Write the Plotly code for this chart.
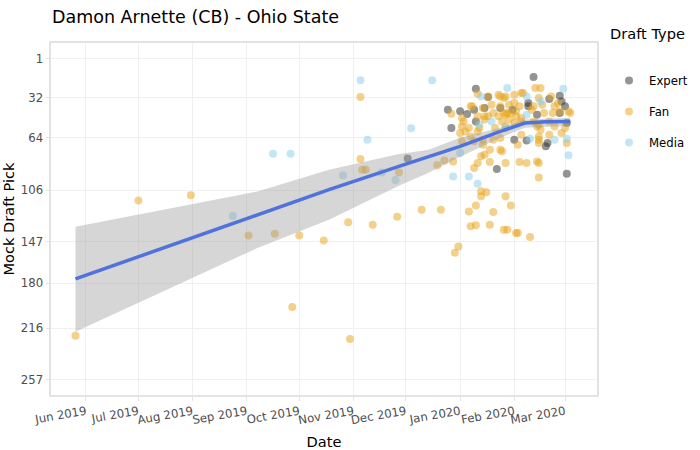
import plotly.graph_objects as go

# ---------------- data ----------------
expert_dates = ["2019-12-02", "2019-12-25", "2019-12-27", "2020-01-01", "2020-01-05", "2020-01-09",
                "2020-01-10", "2020-01-10", "2020-01-15", "2020-01-17", "2020-01-22", "2020-01-24",
                "2020-01-31", "2020-02-01", "2020-02-08", "2020-02-09", "2020-02-09", "2020-02-12",
                "2020-02-14", "2020-02-19", "2020-02-20", "2020-02-21", "2020-02-27", "2020-02-27",
                "2020-02-28", "2020-03-01", "2020-03-02", "2020-03-02"]
expert_picks = [80.7, 41.7, 56.3, 43.0, 45.1, 41.7,
                24.9, 51.0, 40.3, 31.5, 89.0, 40.3,
                41.7, 65.6, 66.2, 36.3, 39.0, 15.6,
                45.7, 70.9, 68.2, 33.1, 30.5, 44.3,
                35.1, 39.0, 52.3, 92.7]

fan_dates = ["2019-05-26", "2019-07-01", "2019-07-31", "2019-09-02", "2019-09-17", "2019-09-27",
             "2019-10-01", "2019-10-15", "2019-10-29", "2019-10-30", "2019-11-05", "2019-11-05",
             "2019-11-06", "2019-11-08", "2019-11-12", "2019-11-26", "2019-11-27", "2019-12-10",
             "2019-12-19", "2019-12-21", "2019-12-23", "2019-12-27", "2019-12-28", "2019-12-29",
             "2019-12-31", "2020-01-01", "2020-01-02", "2020-01-02", "2020-01-02", "2020-01-03",
             "2020-01-04", "2020-01-06", "2020-01-06", "2020-01-07", "2020-01-07", "2020-01-07",
             "2020-01-08", "2020-01-09", "2020-01-09", "2020-01-10", "2020-01-10", "2020-01-11",
             "2020-01-11", "2020-01-11", "2020-01-11", "2020-01-12", "2020-01-13", "2020-01-13",
             "2020-01-13", "2020-01-14", "2020-01-14", "2020-01-14", "2020-01-15", "2020-01-15",
             "2020-01-15", "2020-01-16", "2020-01-17", "2020-01-17", "2020-01-18", "2020-01-18",
             "2020-01-18", "2020-01-19", "2020-01-20", "2020-01-20", "2020-01-20", "2020-01-21",
             "2020-01-23", "2020-01-23", "2020-01-24", "2020-01-24", "2020-01-24", "2020-01-24",
             "2020-01-25", "2020-01-25", "2020-01-26", "2020-01-26", "2020-01-26", "2020-01-27",
             "2020-01-27", "2020-01-27", "2020-01-27", "2020-01-27", "2020-01-28", "2020-01-28",
             "2020-01-29", "2020-01-29", "2020-01-30", "2020-01-30", "2020-02-01", "2020-02-01",
             "2020-02-01", "2020-02-02", "2020-02-02", "2020-02-02", "2020-02-03", "2020-02-03",
             "2020-02-04", "2020-02-04", "2020-02-05", "2020-02-05", "2020-02-05", "2020-02-05",
             "2020-02-06", "2020-02-08", "2020-02-10", "2020-02-11", "2020-02-12", "2020-02-12",
             "2020-02-13", "2020-02-14", "2020-02-14", "2020-02-15", "2020-02-15", "2020-02-15",
             "2020-02-15", "2020-02-15", "2020-02-15", "2020-02-15", "2020-02-16", "2020-02-16",
             "2020-02-17", "2020-02-18", "2020-02-21", "2020-02-21", "2020-02-22", "2020-02-23",
             "2020-02-24", "2020-02-24", "2020-02-26", "2020-02-27", "2020-02-28", "2020-03-01",
             "2020-03-02", "2020-03-03", "2020-03-04"]
fan_picks = [222.0, 114.0, 110.0, 142.0, 140.6, 199.0,
             142.0, 146.0, 131.5, 224.5, 31.5, 81.0,
             89.5, 89.5, 133.4, 127.0, 91.7, 121.4,
             86.0, 121.4, 82.1, 45.0, 83.0, 155.7,
             150.7, 60.3, 48.3, 55.0, 66.9, 51.0,
             59.0, 56.3, 122.8, 39.0, 63.0, 134.7,
             39.0, 66.9, 88.2, 118.0, 133.9, 28.9,
             47.0, 59.0, 84.2, 56.3, 78.9, 106.8,
             110.8, 40.3, 65.6, 69.6, 47.0, 49.6,
             77.6, 107.6, 31.1, 47.0, 73.6, 83.4,
             133.4, 37.7, 44.3, 65.6, 123.3, 56.3,
             29.7, 47.0, 31.1, 39.0, 64.2, 73.6,
             51.0, 74.9, 32.3, 44.3, 137.4, 31.1,
             45.7, 55.0, 84.2, 110.8, 44.3, 137.4,
             37.7, 49.6, 44.3, 118.0, 29.7, 36.3,
             52.3, 43.0, 47.0, 140.0, 69.6, 140.0,
             39.0, 83.4, 28.4, 48.3, 51.0, 61.6,
             28.4, 84.2, 143.2, 41.7, 39.0, 51.0,
             24.4, 55.0, 82.9, 32.3, 53.6, 63.0,
             65.6, 68.2, 84.2, 95.7, 24.4, 57.6,
             37.7, 44.3, 51.0, 61.6, 31.1, 44.3,
             39.0, 55.0, 36.3, 43.0, 60.3, 56.3,
             68.2, 43.0, 44.3]

media_dates = ["2019-08-24", "2019-09-16", "2019-09-26", "2019-10-26", "2019-11-05", "2019-11-09",
               "2019-11-17", "2019-11-25", "2019-12-04", "2019-12-16", "2019-12-28", "2020-01-01",
               "2020-01-06", "2020-01-11", "2020-01-12", "2020-01-13", "2020-01-19", "2020-01-27",
               "2020-01-28", "2020-02-08", "2020-02-08", "2020-02-10", "2020-02-16", "2020-02-24",
               "2020-02-29", "2020-03-02", "2020-03-03"]
media_picks = [126.5, 76.8, 76.8, 94.1, 18.3, 65.6,
               91.7, 97.7, 56.5, 18.3, 94.9, 76.2,
               94.9, 100.7, 53.6, 31.1, 51.0, 56.3,
               24.4, 31.1, 45.7, 64.8, 35.1, 65.6,
               24.9, 64.8, 78.1]

# smoothed trend and its confidence band
trend_dates = ["2019-05-26", "2019-10-18", "2019-11-27", "2020-01-01", "2020-01-24",
               "2020-02-07", "2020-02-19", "2020-03-04"]
trend_pick = [176.6, 105.5, 86.9, 71.0, 59.0, 52.3, 51.2, 51.0]

ci_dates = ["2019-05-26", "2019-09-07", "2019-10-18", "2019-11-27", "2019-12-14",
            "2020-01-01", "2020-01-24", "2020-02-07", "2020-03-04"]
ci_low = [135.0, 107.0, 89.5, 77.0, 73.6, 64.0, 56.0, 49.6, 48.2]
ci_high = [218.7, 152.0, 129.4, 102.3, 92.0, 79.2, 64.0, 56.0, 54.4]

month_ticks = ["2019-06-01", "2019-07-01", "2019-08-01", "2019-09-01", "2019-10-01",
               "2019-11-01", "2019-12-01", "2020-01-01", "2020-02-01", "2020-03-01"]
month_labels = ["Jun 2019", "Jul 2019", "Aug 2019", "Sep 2019", "Oct 2019",
                "Nov 2019", "Dec 2019", "Jan 2020", "Feb 2020", "Mar 2020"]
pick_ticks = [1, 32, 64, 106, 147, 180, 216, 257]

# ---------------- figure ----------------
FONT = "Verdana, DejaVu Sans, sans-serif"
fig = go.Figure()

series = [("Expert", expert_dates, expert_picks, "#2a2a2a"),
          ("Fan", fan_dates, fan_picks, "#E8A317"),
          ("Media", media_dates, media_picks, "#87CEEB")]
for name, d, p, col in series:
    fig.add_trace(go.Scatter(
        x=d, y=p, mode="markers", name=name, legendgroup=name,
        marker=dict(color=col, size=8, opacity=0.5, line=dict(width=0)),
    ))

fig.add_trace(go.Scatter(
    x=ci_dates + ci_dates[::-1], y=ci_high + ci_low[::-1],
    fill="toself", fillcolor="rgba(153,153,153,0.4)", line=dict(width=0),
    mode="lines", hoverinfo="skip", showlegend=False,
))
fig.add_trace(go.Scatter(
    x=trend_dates, y=trend_pick, mode="lines",
    line=dict(color="#4F72DC", width=3.5), showlegend=False,
))

axis_common = dict(
    showline=True, mirror=True, linecolor="#e3e3e3", linewidth=2,
    gridcolor="#f0f0f0", gridwidth=1, zeroline=False, automargin=False,
    ticks="outside", ticklen=3.5, tickcolor="#e3e3e3",
    tickfont=dict(size=11.7, color="#4d4d4d", family=FONT),
)

fig.update_layout(
    width=700, height=450,
    margin=dict(l=51, r=103, t=43, b=55, autoexpand=False),
    paper_bgcolor="white", plot_bgcolor="white",
    font=dict(family=FONT, color="black"),
    title=dict(text="Damon Arnette (CB) - Ohio State", x=52 / 700, xanchor="left",
               y=1 - 17 / 450, yanchor="middle", font=dict(size=17.5, family=FONT)),
    xaxis=dict(range=["2019-05-12", "2020-03-19 07:00"], tickvals=month_ticks,
               ticktext=month_labels, tickangle=-10,
               title=dict(text="Date", font=dict(size=14.6)), **axis_common),
    yaxis=dict(range=[269.2, -11.5], tickvals=pick_ticks,
               title=dict(text="Mock Draft Pick", font=dict(size=14.6)), **axis_common),
    legend=dict(font=dict(size=11.7), x=1.022, xanchor="left", y=0.935, yanchor="top",
                tracegroupgap=12, bgcolor="rgba(0,0,0,0)"),
    annotations=[dict(text="Draft Type", xref="paper", yref="paper", x=1.021, xanchor="left",
                      y=1 + 10 / 352, yanchor="middle", showarrow=False,
                      font=dict(size=14.6, family=FONT, color="black"))],
    showlegend=True,
)

fig.write_html("out.html", config={"displayModeBar": False},
               post_script="document.body.style.margin='0';"
               "document.body.style.overflow='hidden';")
